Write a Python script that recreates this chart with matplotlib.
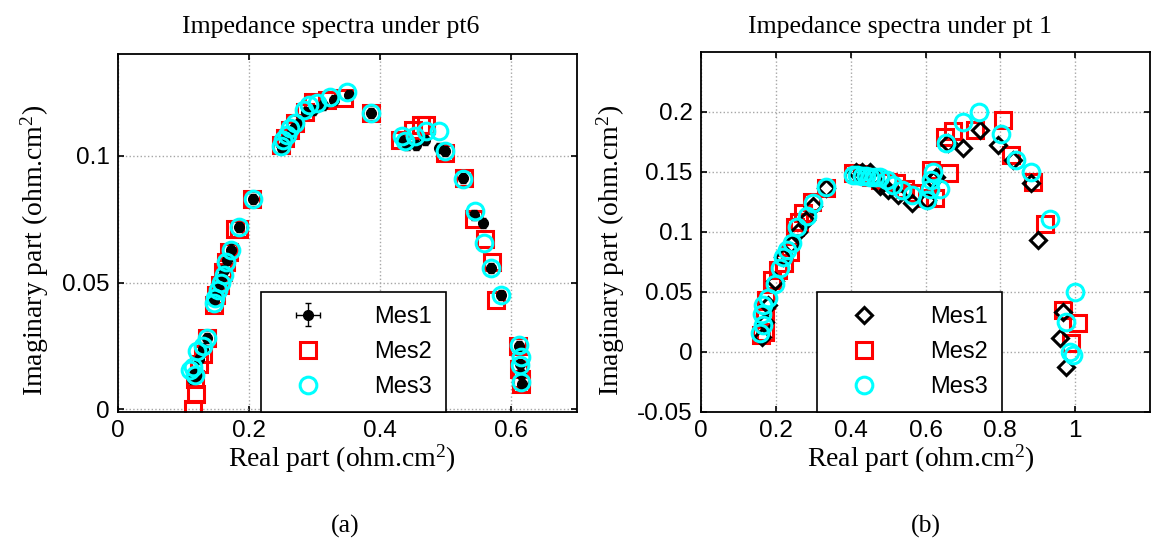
import numpy as np
import matplotlib
matplotlib.use('Agg')
import matplotlib.pyplot as plt

# ---- (a) pt6 ----
a_mes1_x = [0.113, 0.117, 0.120, 0.124, 0.130, 0.136, 0.147, 0.150, 0.154, 0.158, 0.162, 0.166, 0.172, 0.184,
            0.206, 0.250, 0.255, 0.262, 0.268, 0.276, 0.287, 0.297, 0.312, 0.330, 0.352, 0.386, 0.432, 0.440,
            0.455, 0.468, 0.490, 0.498, 0.526, 0.543, 0.556, 0.569, 0.584, 0.611, 0.613, 0.615, 0.616]
a_mes1_y = [0.012, 0.015, 0.013, 0.020, 0.024, 0.028, 0.043, 0.046, 0.049, 0.052, 0.055, 0.059, 0.063, 0.072,
            0.083, 0.103, 0.106, 0.108, 0.111, 0.113, 0.117, 0.118, 0.120, 0.122, 0.124, 0.1167, 0.106, 0.104,
            0.104, 0.106, 0.103, 0.1017, 0.091, 0.0765, 0.0735, 0.0556, 0.0451, 0.025, 0.018, 0.014, 0.010]
a_mes1_err = 0.004

a_mes2_x = [0.114, 0.119, 0.117, 0.123, 0.130, 0.135, 0.146, 0.150, 0.155, 0.160, 0.165, 0.170, 0.178, 0.184,
            0.205, 0.248, 0.255, 0.262, 0.270, 0.285, 0.298, 0.318, 0.345, 0.386, 0.430, 0.450, 0.462, 0.470,
            0.498, 0.527, 0.543, 0.560, 0.570, 0.577, 0.610, 0.612, 0.614, 0.615]
a_mes2_y = [0.000, 0.006, 0.012, 0.018, 0.022, 0.028, 0.041, 0.045, 0.049, 0.054, 0.058, 0.062, 0.071, 0.071,
            0.083, 0.104, 0.107, 0.110, 0.113, 0.117, 0.121, 0.122, 0.1225, 0.1167, 0.106, 0.110, 0.112, 0.112,
            0.101, 0.091, 0.075, 0.067, 0.058, 0.043, 0.025, 0.016, 0.012, 0.010]

a_mes3_x = [0.110, 0.115, 0.118, 0.121, 0.129, 0.135, 0.146, 0.148, 0.152, 0.157, 0.161, 0.165, 0.172, 0.184,
            0.206, 0.248, 0.252, 0.258, 0.263, 0.270, 0.283, 0.291, 0.303, 0.324, 0.349, 0.386, 0.433, 0.438,
            0.453, 0.469, 0.489, 0.499, 0.526, 0.544, 0.558, 0.569, 0.584, 0.611, 0.615, 0.613, 0.615]
a_mes3_y = [0.0154, 0.0167, 0.0135, 0.023, 0.025, 0.028, 0.042, 0.044, 0.047, 0.050, 0.053, 0.058, 0.063, 0.072,
            0.083, 0.1037, 0.106, 0.108, 0.111, 0.113, 0.118, 0.120, 0.1207, 0.123, 0.125, 0.1167, 0.1076, 0.1056,
            0.1076, 0.1096, 0.1096, 0.1017, 0.0909, 0.078, 0.0655, 0.0556, 0.0451, 0.0252, 0.0207, 0.0174, 0.0109]

# ---- (b) pt 1 ----
b_mes1_x = [0.162, 0.170, 0.180, 0.198, 0.220, 0.240, 0.258, 0.280, 0.300, 0.335, 0.415, 0.429, 0.451, 0.478,
            0.500, 0.527, 0.563, 0.603, 0.620, 0.629, 0.660, 0.700, 0.745, 0.794, 0.835, 0.881, 0.900, 0.967,
            0.959, 0.976]
b_mes1_y = [0.0128, 0.025, 0.039, 0.059, 0.079, 0.090, 0.100, 0.110, 0.122, 0.137, 0.150, 0.150, 0.150, 0.138,
            0.135, 0.131, 0.124, 0.127, 0.143, 0.146, 0.174, 0.170, 0.185, 0.1725, 0.160, 0.1406, 0.093, 0.0336,
            0.0114, -0.0122]

b_mes2_x = [0.160, 0.171, 0.171, 0.175, 0.189, 0.205, 0.222, 0.238, 0.251, 0.262, 0.273, 0.296, 0.335, 0.407,
            0.430, 0.455, 0.478, 0.500, 0.522, 0.545, 0.566, 0.603, 0.616, 0.625, 0.652, 0.664, 0.674, 0.732,
            0.807, 0.829, 0.887, 0.919, 0.967, 1.007, 0.990]
b_mes2_y = [0.0145, 0.017, 0.029, 0.043, 0.060, 0.068, 0.074, 0.083, 0.1045, 0.108, 0.1156, 0.125, 0.137, 0.149,
            0.148, 0.146, 0.143, 0.142, 0.141, 0.136, 0.1325, 0.128, 0.152, 0.128, 0.179, 0.149, 0.184, 0.185,
            0.193, 0.164, 0.142, 0.107, 0.035, 0.024, 0.0072]

b_mes3_x = [0.158, 0.166, 0.162, 0.166, 0.180, 0.198, 0.210, 0.220, 0.229, 0.242, 0.256, 0.282, 0.300, 0.335,
            0.407, 0.418, 0.429, 0.440, 0.451, 0.465, 0.478, 0.496, 0.514, 0.536, 0.563, 0.603, 0.611, 0.616,
            0.620, 0.638, 0.656, 0.700, 0.743, 0.803, 0.843, 0.883, 0.934, 0.999, 0.976, 0.985, 0.994]
b_mes3_y = [0.0156, 0.0225, 0.032, 0.039, 0.0447, 0.057, 0.070, 0.079, 0.085, 0.0906, 0.1044, 0.113, 0.124, 0.1378,
            0.1475, 0.1472, 0.1467, 0.1463, 0.146, 0.1455, 0.146, 0.143, 0.139, 0.135, 0.131, 0.127, 0.136, 0.143,
            0.150, 0.136, 0.174, 0.192, 0.200, 0.182, 0.160, 0.150, 0.111, 0.050, 0.0253, 0.0003, -0.0025]

plt.rcParams['font.family'] = 'Liberation Sans'
plt.rcParams['mathtext.default'] = 'regular'

fig = plt.figure(figsize=(11.51, 5.5), dpi=100)
ax1 = fig.add_axes([118 / 1151, 1 - 412 / 550, 459 / 1151, 358 / 550])
ax2 = fig.add_axes([701 / 1151, 1 - 412 / 550, 449 / 1151, 360 / 550])

title_font = dict(family='Liberation Serif', fontsize=18.5)
label_font = dict(family='Liberation Serif', fontsize=20)


def style(ax):
    ax.grid(True, color='0.65', linestyle=':', linewidth=1.0)
    ax.set_axisbelow(True)
    ax.tick_params(direction='in', top=True, right=True, labelsize=17.5, length=4, width=1.2, pad=6)
    for s in ax.spines.values():
        s.set_linewidth(1.3)


# panel (a)
h1 = ax1.errorbar(a_mes1_x, a_mes1_y, xerr=a_mes1_err, yerr=a_mes1_err / 2, fmt='o', color='k', ms=7,
                  elinewidth=1, capsize=2, label='Mes1', zorder=3)
h2, = ax1.plot(a_mes2_x, a_mes2_y, 's', ms=12, mfc='none', mec='red', mew=2.2, label='Mes2', zorder=2)
h3, = ax1.plot(a_mes3_x, a_mes3_y, 'o', ms=12, mfc='none', mec='cyan', mew=2.2, label='Mes3', zorder=4)
ax1.set_xlim(0, 0.7)
ax1.set_ylim(-0.001, 0.14)
ax1.set_xticks([0, 0.2, 0.4, 0.6])
ax1.set_xticklabels(['0', '0.2', '0.4', '0.6'])
ax1.set_yticks([0, 0.05, 0.1])
ax1.set_yticklabels(['0', '0.05', '0.1'])
style(ax1)

# panel (b)
g1, = ax2.plot(b_mes1_x, b_mes1_y, 'D', ms=8, mfc='none', mec='k', mew=2.2, label='Mes1', zorder=3)
g2, = ax2.plot(b_mes2_x, b_mes2_y, 's', ms=12, mfc='none', mec='red', mew=2.2, label='Mes2', zorder=2)
g3, = ax2.plot(b_mes3_x, b_mes3_y, 'o', ms=12, mfc='none', mec='cyan', mew=2.2, label='Mes3', zorder=4)
ax2.set_xlim(0, 1.2)
ax2.set_ylim(-0.05, 0.25)
ax2.set_xticks([0, 0.2, 0.4, 0.6, 0.8, 1])
ax2.set_xticklabels(['0', '0.2', '0.4', '0.6', '0.8', '1'])
ax2.set_yticks([-0.05, 0, 0.05, 0.1, 0.15, 0.2])
ax2.set_yticklabels(['-0.05', '0', '0.05', '0.1', '0.15', '0.2'])
style(ax2)

panels = [(ax1, [h1, h2, h3], (446 - 118) / 459, 0.488, -0.147),
          (ax2, [g1, g2, g3], (1002 - 701) / 449, 0.49, -0.165)]
for ax, handles, right, xl, yl in panels:
    leg = ax.legend(handles=handles, labels=['Mes1', 'Mes2', 'Mes3'], loc='lower right',
                    bbox_to_anchor=(right, 0), fontsize=17, fancybox=False,
                    edgecolor='k', framealpha=1, borderaxespad=0, handlelength=2.8, handletextpad=1.4,
                    labelspacing=0.55, borderpad=0.6)
    leg.get_frame().set_linewidth(1.2)
    leg.set_zorder(10)
    ax.set_xlabel('Real part (ohm.cm$^2$)', **label_font)
    ax.set_ylabel('Imaginary part (ohm.cm$^2$)', **label_font)
    ax.xaxis.set_label_coords(xl, -0.085)
    ax.yaxis.set_label_coords(yl, 0.45)

fig.text(331 / 1151, 1 - 27 / 550, 'Impedance spectra under pt6', ha='center', va='center', **title_font)
fig.text(900 / 1151, 1 - 27 / 550, 'Impedance spectra under pt 1', ha='center', va='center', **title_font)
fig.text(345 / 1151, 1 - 526 / 550, '(a)', ha='center', va='center', **title_font)
fig.text(926 / 1151, 1 - 526 / 550, '(b)', ha='center', va='center', **title_font)

fig.savefig('out.png', dpi=100)
